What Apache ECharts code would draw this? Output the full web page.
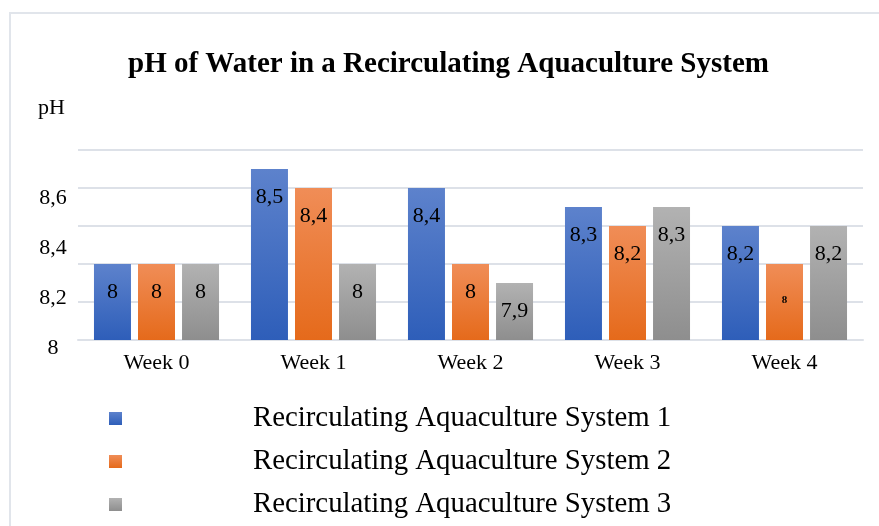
<!DOCTYPE html>
<html>
<head>
<meta charset="utf-8">
<style>
  html, body { margin: 0; padding: 0; background: #fff; overflow: hidden; }
  #frame { position: absolute; left: 9px; top: 12px; width: 1000px; height: 1000px; border: 2px solid #e1e5eb; box-sizing: border-box; }
  #chart { position: absolute; left: 0; top: 0; width: 879px; height: 526px; }
</style>
<script src="https://cdn.jsdelivr.net/npm/echarts@6/dist/echarts.min.js"></script>
</head>
<body>
<div id="frame"></div>
<div id="chart"></div>
<script>
const categories = ['Week 0', 'Week 1', 'Week 2', 'Week 3', 'Week 4'];
const seriesNames = ['Recirculating Aquaculture System 1', 'Recirculating Aquaculture System 2', 'Recirculating Aquaculture System 3'];
const system1 = [8, 8.5, 8.4, 8.3, 8.2];
const system2 = [8, 8.4, 8, 8.2, 8];
const system3 = [8, 8, 7.9, 8.3, 8.2];
const yTickLabels = ['8', '8,2', '8,4', '8,6'];

const FONT = 'Liberation Serif';
const grad = (top, bottom) => new echarts.graphic.LinearGradient(0, 0, 0, 1, [
  { offset: 0, color: top }, { offset: 1, color: bottom }
]);
const colors = [
  grad('#5d82cc', '#2e5eb9'),
  grad('#f08d57', '#e56a1b'),
  grad('#b2b2b2', '#8e8e8e')
];
const fmt = v => String(+v.toFixed(1)).replace('.', ',');

function buildData(values, sIdx) {
  return values.map((v, i) => {
    // the last orange label renders as a small clipped glyph in the reference
    if (sIdx === 1 && i === 4) {
      return { value: v, label: { fontSize: 11, fontWeight: 'bold', position: ['50%', 36] } };
    }
    return v;
  });
}

const allValues = [system1, system2, system3];
const series = allValues.map((vals, s) => ({
  name: seriesNames[s],
  type: 'bar',
  yAxisIndex: 0,
  barWidth: 37,
  barGap: '19%',
  data: buildData(vals, s),
  itemStyle: { color: colors[s] },
  label: {
    show: true,
    position: ['50%', 28],
    align: 'center',
    verticalAlign: 'middle',
    fontFamily: FONT,
    fontSize: 22,
    color: '#000',
    formatter: p => fmt(p.value)
  }
}));

const chart = echarts.init(document.getElementById('chart'), null, { renderer: 'canvas' });
chart.setOption({
  animation: false,
  backgroundColor: 'transparent',
  title: [
    { text: 'pH of Water in a Recirculating Aquaculture System', left: 123, top: 45,
      textStyle: { fontFamily: FONT, fontSize: 29, fontWeight: 'bold', color: '#000' } },
    { text: 'pH', left: 33, top: 92,
      textStyle: { fontFamily: FONT, fontSize: 22, fontWeight: 'normal', color: '#000' } }
  ],
  legend: {
    orient: 'vertical',
    left: 104,
    top: 399,
    height: 160,
    icon: 'rect',
    itemWidth: 13,
    itemHeight: 13,
    itemGap: 14,
    data: seriesNames,
    textStyle: { fontFamily: FONT, fontSize: 28.8, color: '#000', padding: [0, 0, 0, 126] }
  },
  grid: { left: 78, right: 16, top: 150, bottom: 186, containLabel: false },
  xAxis: {
    type: 'category',
    data: categories,
    axisTick: { show: false },
    axisLine: { lineStyle: { color: '#dde1e8', width: 2 } },
    axisLabel: { fontFamily: FONT, fontSize: 22, color: '#000', margin: 12 }
  },
  yAxis: [
    {
      type: 'value', min: 7.6, max: 8.6, interval: 0.2,
      axisLabel: { show: false },
      axisLine: { show: false }, axisTick: { show: false },
      splitLine: { lineStyle: { color: '#dde1e8', width: 2 } }
    },
    {
      type: 'value', position: 'left', min: 8, max: 8.76, interval: 0.2,
      axisLine: { show: false }, axisTick: { show: false }, splitLine: { show: false },
      axisLabel: {
        fontFamily: FONT, fontSize: 22, color: '#000', align: 'center', margin: 25,
        verticalAlign: 'top', lineHeight: 17, showMaxLabel: false,
        formatter: v => {
          const idx = Math.round((v - 8) / 0.2);
          return Math.abs(v - (8 + idx * 0.2)) < 1e-6 && yTickLabels[idx] !== undefined ? yTickLabels[idx] : '';
        }
      }
    }
  ],
  series: series
});
</script>
</body>
</html>
